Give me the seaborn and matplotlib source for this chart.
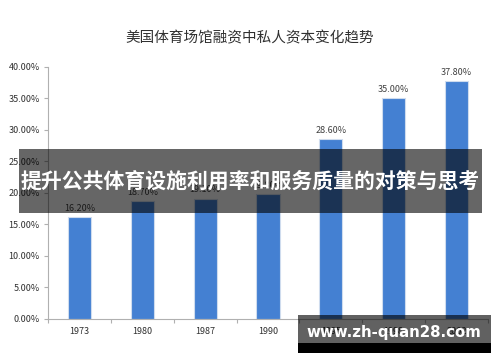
import numpy as np
import pandas as pd
import matplotlib
matplotlib.use("Agg")
import matplotlib.pyplot as plt
import seaborn as sns
from matplotlib.patches import Rectangle
from matplotlib.ticker import FuncFormatter, FixedLocator

# data
years = ["1973", "1980", "1987", "1990", "1995", "1998", "2002"]
private_share = [16.2, 18.7, 19.1, 19.8, 28.6, 35.0, 37.8]
title = "美国体育场馆融资中私人资本变化趋势"
banner_text = "提升公共体育设施利用率和服务质量的对策与思考"
watermark = "www.zh-quan28.com"

sns.set_theme(style="white")
plt.rcParams['font.family'] = ['Noto Sans CJK SC', 'DejaVu Sans']

df = pd.DataFrame({"year": years, "share": private_share})

fig = plt.figure(figsize=(5, 3.62), dpi=100)
ax = fig.add_axes([0.096, 0.119, 0.88, 0.696])
sns.barplot(data=df, x="year", y="share", color="#4480d2", width=0.37,
            edgecolor="#cfdcee", linewidth=0.8, saturation=1, ax=ax)

ax.set_ylim(0, 40)
ax.set_xlim(-0.5, len(years) - 0.5)
ax.set_yticks(np.arange(0, 41, 5))
ax.yaxis.set_major_formatter(FuncFormatter(lambda v, p: "{:.2f}%".format(v)))
ax.set_xlabel("")
ax.set_ylabel("")
ax.bar_label(ax.containers[0], fmt="%.2f%%", padding=3, fontsize=6.5, color="#404040")

# tick marks between categories on x, outside ticks on y
ax.xaxis.set_minor_locator(FixedLocator(np.arange(-0.5, len(years), 1)))
ax.tick_params(axis="x", which="major", length=0, labelsize=6.5, labelcolor="#303030", pad=6)
ax.tick_params(axis="x", which="minor", length=3, color="#b0b0b0", width=0.8, bottom=True)
ax.tick_params(axis="y", which="major", length=3, color="#b0b0b0", width=0.8, left=True,
               labelsize=6.5, labelcolor="#303030", pad=3)
for s in ["top", "right"]:
    ax.spines[s].set_visible(False)
for s in ["left", "bottom"]:
    ax.spines[s].set_color("#b0b0b0")
    ax.spines[s].set_linewidth(0.8)

fig.text(0.5, 0.895, title, ha="center", va="center", fontsize=10.5, color="#303030")

# overlay banner
fig.patches.append(Rectangle((0.038, 1 - 213 / 362), 0.926, 64 / 362, transform=fig.transFigure,
                             facecolor="black", alpha=0.6, edgecolor="none", zorder=5))
fig.text(0.5, 1 - 181 / 362, banner_text, ha="center", va="center", fontsize=15,
         fontweight="bold", color="white", zorder=6)

# watermark box
fig.patches.append(Rectangle((298 / 500, 1 - 343 / 362), 193 / 500, 28 / 362, transform=fig.transFigure,
                             facecolor="black", alpha=0.62, edgecolor="none", zorder=5))
fig.patches.append(Rectangle((298 / 500, 1 - 353 / 362), 193 / 500, 10 / 362, transform=fig.transFigure,
                             facecolor="black", edgecolor="none", zorder=5))
fig.text(394 / 500, 1 - 333 / 362, watermark, ha="center", va="center", fontsize=10.8,
         fontweight="bold", color="white", family=["DejaVu Sans"], zorder=6)

fig.savefig("out.png", dpi=100)
